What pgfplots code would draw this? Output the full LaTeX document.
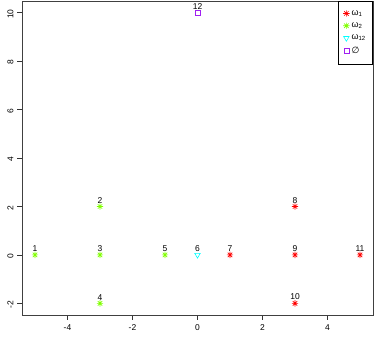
\documentclass[border=0pt]{standalone}
\usepackage{fontspec}
\setmainfont{Liberation Sans}
\newfontfamily\djv{DejaVu Sans}
\usepackage{pgfplots}
\pgfplotsset{compat=1.18}
\definecolor{rA}{HTML}{FF0000}
\definecolor{rB}{HTML}{80FF00}
\definecolor{rC}{HTML}{00FFFF}
\definecolor{rD}{HTML}{A020F0}
\pgfdeclareplotmark{rstar}{%
 \pgfpathmoveto{\pgfqpoint{-\pgfplotmarksize}{0pt}}\pgfpathlineto{\pgfqpoint{\pgfplotmarksize}{0pt}}%
 \pgfpathmoveto{\pgfqpoint{0pt}{-\pgfplotmarksize}}\pgfpathlineto{\pgfqpoint{0pt}{\pgfplotmarksize}}%
 \pgfpathmoveto{\pgfqpoint{-.707\pgfplotmarksize}{-.707\pgfplotmarksize}}\pgfpathlineto{\pgfqpoint{.707\pgfplotmarksize}{.707\pgfplotmarksize}}%
 \pgfpathmoveto{\pgfqpoint{-.707\pgfplotmarksize}{.707\pgfplotmarksize}}\pgfpathlineto{\pgfqpoint{.707\pgfplotmarksize}{-.707\pgfplotmarksize}}%
 \pgfusepathqstroke}
\begin{document}
\begin{tikzpicture}
\useasboundingbox (0,0) rectangle (374bp,338bp);
\begin{axis}[
  at={(22bp,23bp)}, anchor=south west,
  scale only axis, width=351bp, height=314bp,
  xmin=-5.4, xmax=5.4, ymin=-2.48, ymax=10.48,
  xtick={-4,-2,0,2,4}, ytick={-2,0,2,4,6,8,10},
  xtick pos=bottom, ytick pos=left, tick align=outside,
  major tick length=5bp,
  tick style={black!80, line width=0.6pt},
  axis line style={black!75, line width=0.7pt},
  /pgf/number format/assume math mode=true,
  tick label style={font=\fontsize{8.5}{9}\selectfont},
  y tick label style={rotate=90, anchor=south},
  xticklabel style={yshift=-1.5bp},
  yticklabel style={xshift=-1.5bp},
  nodes near coords,
  point meta=explicit symbolic,
  nodes near coords style={font=\fontsize{8.5}{9}\selectfont, inner sep=0pt, anchor=south, yshift=3bp, black},
  legend style={at={(1,1)}, anchor=north east, draw=black, line width=0.6pt,
    font=\fontsize{9}{11}\selectfont, inner xsep=5bp, inner ysep=7bp, row sep=2bp,
    cells={anchor=west}},
  legend cell align=left,
]
\addplot[only marks, mark=rstar, mark size=3.2bp, rA, line width=0.6pt] table[meta=lab] {
x y lab
1 0 7
3 2 8
3 0 9
3 -2 10
5 0 11
};
\addlegendentry{ω\textsubscript{1}}
\addplot[only marks, mark=rstar, mark size=3.2bp, rB, line width=0.6pt] table[meta=lab] {
x y lab
-5 0 1
-3 2 2
-3 0 3
-3 -2 4
-1 0 5
};
\addlegendentry{ω\textsubscript{2}}
\addplot[only marks, mark=triangle, mark size=3.2bp, mark options={rotate=180, draw=rC, fill=none}, rC, line width=0.6pt] table[meta=lab] {
x y lab
0 0 6
};
\addlegendentry{ω\textsubscript{12}}
\addplot[only marks, mark=square, mark size=2.5bp, mark options={draw=rD, fill=none}, color=rD, line width=0.6pt] table[meta=lab] {
x y lab
0 10 12
};
\addlegendentry{{\djv ∅}}
\end{axis}
\end{tikzpicture}
\end{document}
